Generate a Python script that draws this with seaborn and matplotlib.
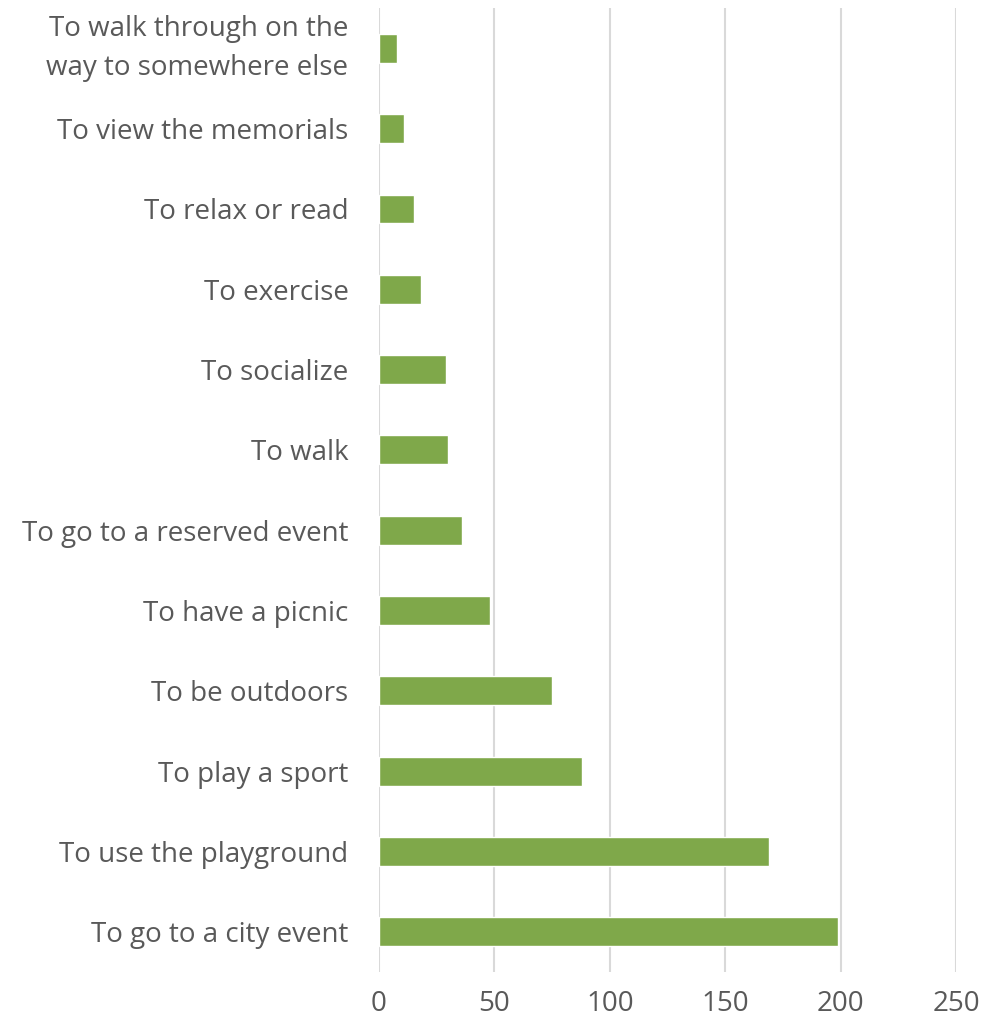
import matplotlib
matplotlib.use("Agg")
import matplotlib.pyplot as plt
import seaborn as sns
import pandas as pd

reasons = [
    "To walk through on the\nway to somewhere else",
    "To view the memorials",
    "To relax or read",
    "To exercise",
    "To socialize",
    "To walk",
    "To go to a reserved event",
    "To have a picnic",
    "To be outdoors",
    "To play a sport",
    "To use the playground",
    "To go to a city event",
]
responses = [8, 11, 15, 18, 29, 30, 36, 48, 75, 88, 169, 199]
x_ticks = [0, 50, 100, 150, 200, 250]

df = pd.DataFrame({"reason": reasons, "responses": responses})

sns.set_theme(style="white")
plt.rcParams["font.family"] = ["Open Sans", "DejaVu Sans"]

fig = plt.figure(figsize=(9.99, 10.21), dpi=100)
ax = fig.add_axes([0.3794, 0.048, 0.957 - 0.3794, 0.944])

sns.barplot(data=df, x="responses", y="reason", order=reasons,
            color="#7FA84A", saturation=1, width=0.36, ax=ax)

ax.set_xlim(0, 250)
ax.set_xticks(x_ticks)
ax.set_xticklabels([str(t) for t in x_ticks])
ax.set_ylim(len(reasons) - 0.5, -0.5)
ax.set_xlabel("")
ax.set_ylabel("")

ax.grid(axis="x", color="#D9D9D9", linewidth=1.5)
ax.grid(axis="y", visible=False)
ax.set_axisbelow(True)
for s in ax.spines.values():
    s.set_visible(False)

ax.tick_params(axis="y", length=0, pad=22, labelsize=20, labelcolor="#595959")
ax.tick_params(axis="x", length=0, pad=13, labelsize=20, labelcolor="#595959")
for lbl in ax.get_yticklabels():
    lbl.set_horizontalalignment("right")
    lbl.set_multialignment("right")
    lbl.set_linespacing(1.55)
    if "\n" in lbl.get_text():
        lbl.set_verticalalignment("center")

fig.savefig("out.png", dpi=100, facecolor="white")
